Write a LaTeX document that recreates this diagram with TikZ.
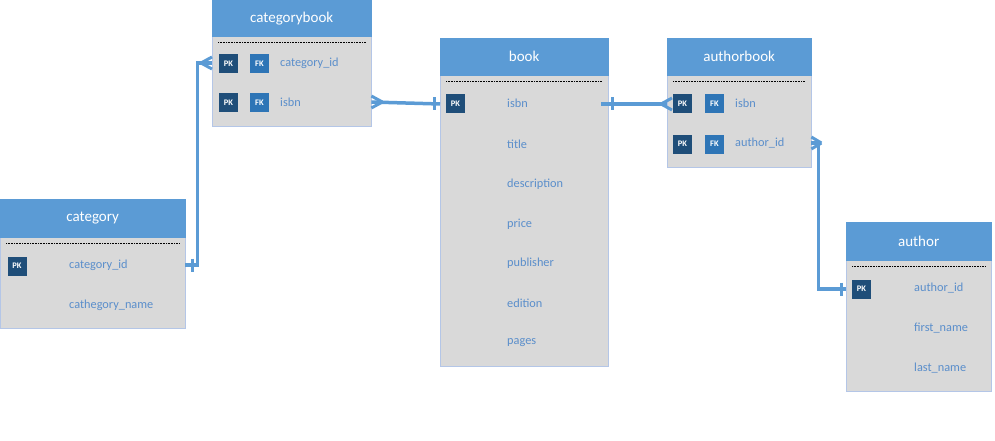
\documentclass[tikz,border=0pt]{standalone}
\usepackage{fontspec}
\setmainfont{Carlito}
\usetikzlibrary{calc}
\definecolor{hdr}{HTML}{5B9BD5}
\definecolor{bodyc}{HTML}{D9D9D9}
\definecolor{edgec}{HTML}{B4C6E7}
\definecolor{pkc}{HTML}{1F4E79}
\definecolor{fkc}{HTML}{2E75B6}
\definecolor{fld}{HTML}{5A8ECB}
\definecolor{lnk}{HTML}{5B9BD5}
\newcommand\crowfoot[2]{\draw[link, line width=3pt] ($(#1)+(#2,0)$) -- ($(#1)+(0,-6)$) ($(#1)+(#2,0)$) -- ($(#1)+(0,6)$);}
\newcommand\onebar[1]{\draw[link, line width=3pt] ($(#1)+(0,-6.5)$) -- ($(#1)+(0,6.5)$);}
\newcommand\dotsep[1]{\draw[line width=0.7pt, dash pattern=on 0.8pt off 0.8pt] ($(#1.north west)+(6,6)$) -- ($(#1.north east)+(-6,6)$);}
\begin{document}
\begin{tikzpicture}[x=1pt,y=-1pt,
  hdrbox/.style={fill=hdr, draw=hdr, anchor=north west, inner sep=0, text=white, font=\fontsize{15}{17}\selectfont},
  bodybox/.style={fill=bodyc, draw=edgec, anchor=north west, inner sep=0},
  keybox/.style={fill=pkc, text=white, minimum size=19pt, inner sep=0, font=\fontsize{8.5}{9}\selectfont\bfseries},
  fkbox/.style={keybox, fill=fkc},
  field/.style={text=fld, anchor=west, inner sep=0, font=\fontsize{12.3}{14}\selectfont},
  link/.style={draw=lnk, line width=3.5pt}]
\useasboundingbox (0,0) rectangle (995,441);

% category
\node[bodybox, minimum width=185pt, minimum height=91pt] (category) at (0,237) {};
\node[hdrbox, minimum width=185pt, minimum height=38pt] (categoryh) at (0,199) {category};
\dotsep{category}
\node[keybox] (catpk) at (17,266) {PK};
\node[field] (catid) at (69,265) {category\_id};
\node[field] (catname) at (69,305) {cathegory\_name};

% categorybook
\node[bodybox, minimum width=159pt, minimum height=90pt] (cb) at (212,36) {};
\node[hdrbox, minimum width=159pt, minimum height=36pt] (cbh) at (212,0) {categorybook};
\dotsep{cb}
\node[keybox] (cbpk1) at (228.5,63.5) {PK};
\node[fkbox] (cbfk1) at (259.5,63.5) {FK};
\node[field] (cbcat) at (280,63) {category\_id};
\node[keybox] (cbpk2) at (228.5,102.5) {PK};
\node[fkbox] (cbfk2) at (259.5,102.5) {FK};
\node[field] (cbisbn) at (280,102) {isbn};

% book
\node[bodybox, minimum width=168pt, minimum height=291pt] (book) at (440,75) {};
\node[hdrbox, minimum width=168pt, minimum height=37pt] (bookh) at (440,38) {book};
\dotsep{book}
\node[keybox] (bookpk) at (455.5,104) {PK};
\node[field] (bisbn) at (507,103) {isbn};
\node[field] (btitle) at (507,144) {title};
\node[field] (bdesc) at (507,184) {description};
\node[field] (bprice) at (507,224) {price};
\node[field] (bpub) at (507,263) {publisher};
\node[field] (bed) at (507,303) {edition};
\node[field] (bpages) at (507,343) {pages};

% authorbook
\node[bodybox, minimum width=144pt, minimum height=92pt] (ab) at (667,75) {};
\node[hdrbox, minimum width=144pt, minimum height=37pt] (abh) at (667,38) {authorbook};
\dotsep{ab}
\node[keybox] (abpk1) at (682.5,104) {PK};
\node[fkbox] (abfk1) at (714.5,104) {FK};
\node[field] (abisbn) at (735,103) {isbn};
\node[keybox] (abpk2) at (682.5,144) {PK};
\node[fkbox] (abfk2) at (714.5,144) {FK};
\node[field] (abauth) at (735,143) {author\_id};

% author
\node[bodybox, minimum width=145pt, minimum height=131pt] (author) at (846,260) {};
\node[hdrbox, minimum width=145pt, minimum height=38pt] (authorh) at (846,222) {author};
\dotsep{author}
\node[keybox] (aupk) at (861.5,289) {PK};
\node[field] (auid) at (914,288) {author\_id};
\node[field] (aufirst) at (914,328) {first\_name};
\node[field] (aulast) at (914,368) {last\_name};

% connectors
\coordinate (c1a) at (category.east |- catid);
\coordinate (c1b) at (cb.west |- cbcat);
\draw[link] (c1a) -- ++(12,0) |- (c1b);
\onebar{$(c1a)+(7,0)$}
\crowfoot{c1b}{-11}

\coordinate (c2a) at (cb.east |- cbisbn);
\coordinate (c2b) at (book.west |- bookpk);
\draw[link] (c2a) -- (c2b);
\crowfoot{c2a}{11}
\onebar{$(c2b)+(-6,0)$}

\coordinate (c3a) at (book.east |- bookpk);
\coordinate (c3b) at (ab.west |- abpk1);
\draw[link] ($(c3a)+(-7,0)$) -- (c3b);
\onebar{$(c3a)+(4,0)$}
\crowfoot{$(c3b)+(5,0)$}{-11}

\coordinate (c4a) at (ab.east |- abauth);
\coordinate (c4b) at (author.west |- aupk);
\draw[link] (c4a) -- ++(7,0) |- (c4b);
\crowfoot{c4a}{10}
\onebar{$(c4b)+(-5,0)$}
\end{tikzpicture}
\end{document}
